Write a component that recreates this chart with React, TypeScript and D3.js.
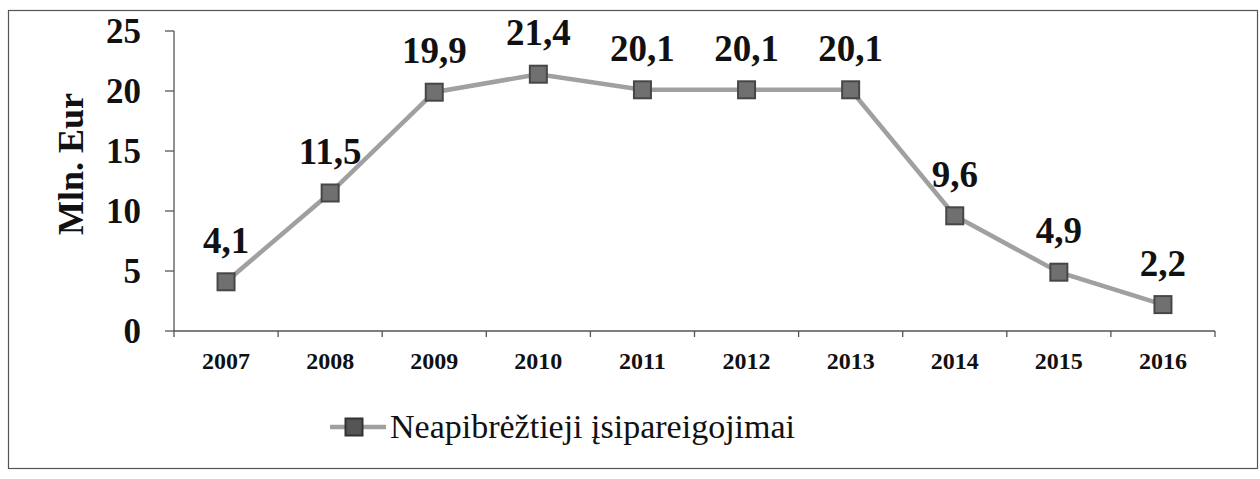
import React from "react";
import * as d3 from "d3";

const years = ["2007", "2008", "2009", "2010", "2011", "2012", "2013", "2014", "2015", "2016"];
const values = [4.1, 11.5, 19.9, 21.4, 20.1, 20.1, 20.1, 9.6, 4.9, 2.2];
const yTicks = [0, 5, 10, 15, 20, 25];
const seriesName = "Neapibrėžtieji įsipareigojimai";
const yTitle = "Mln. Eur";

const W = 1260;
const H = 479;
const left = 174;
const right = 1215;
const top = 31;
const bottom = 331;
const font = "'Liberation Serif', 'Times New Roman', serif";

export default function App() {
  const x = d3.scaleBand<string>().domain(years).range([left, right]);
  const y = d3.scaleLinear().domain([0, 25]).range([bottom, top]);
  const cxOf = (i: number) => (x(years[i]) as number) + x.bandwidth() / 2;
  const line = d3
    .line<number>()
    .x((_, i) => cxOf(i))
    .y((d) => y(d));
  const fmt = (v: number) => v.toFixed(1).replace(".", ",");
  const ms = 17;
  return (
    <svg width={W} height={H} style={{ position: "absolute", left: 0, top: 0, background: "#fff" }}>
      <rect x={8.5} y={10.5} width={1249} height={458} fill="#fff" stroke="#555" strokeWidth={1.2} />
      {/* y axis */}
      <line x1={left} x2={left} y1={top} y2={bottom} stroke="#555" strokeWidth={1.3} />
      {yTicks.map((t) => (
        <g key={t}>
          <line x1={left - 9} x2={left} y1={y(t)} y2={y(t)} stroke="#555" strokeWidth={1.3} />
          <text x={141} y={y(t)} dy="0.35em" textAnchor="end" fontFamily={font} fontWeight="bold" fontSize={35} fill="#111">
            {t}
          </text>
        </g>
      ))}
      <text
        transform={`translate(83,164) rotate(-90)`}
        textAnchor="middle"
        fontFamily={font}
        fontWeight="bold"
        fontSize={36}
        fill="#111"
      >
        {yTitle}
      </text>
      {/* x axis */}
      <line x1={left} x2={right} y1={bottom} y2={bottom} stroke="#555" strokeWidth={1.3} />
      {years.map((yr, i) => (
        <g key={yr}>
          <line x1={x(yr) as number} x2={x(yr) as number} y1={bottom} y2={bottom + 6} stroke="#555" strokeWidth={1.3} />
          {i === years.length - 1 && (
            <line x1={right} x2={right} y1={bottom} y2={bottom + 6} stroke="#555" strokeWidth={1.3} />
          )}
          <text
            x={cxOf(i)}
            y={369}
            textAnchor="middle"
            fontFamily={font}
            fontWeight="bold"
            fontSize={24}
            fill="#111"
          >
            {yr}
          </text>
        </g>
      ))}
      {/* line */}
      <path d={line(values) || ""} fill="none" stroke="#a0a0a0" strokeWidth={4.5} />
      {values.map((v, i) => {
        const cx = cxOf(i);
        const cy = y(v);
        return (
          <g key={i}>
            <rect x={cx - ms / 2} y={cy - ms / 2} width={ms} height={ms} fill="#707070" stroke="#474747" strokeWidth={2} />
            <text x={cx} y={cy - 29} textAnchor="middle" fontFamily={font} fontWeight="bold" fontSize={37} fill="#111">
              {fmt(v)}
            </text>
          </g>
        );
      })}
      {/* legend */}
      <line x1={330} x2={386} y1={427} y2={427} stroke="#a0a0a0" strokeWidth={4.5} />
      <rect x={354 - ms / 2} y={427 - ms / 2} width={ms} height={ms} fill="#555" stroke="#333" strokeWidth={2} />
      <text x={390} y={438} fontFamily={font} fontSize={34} fill="#111">
        {seriesName}
      </text>
    </svg>
  );
}
